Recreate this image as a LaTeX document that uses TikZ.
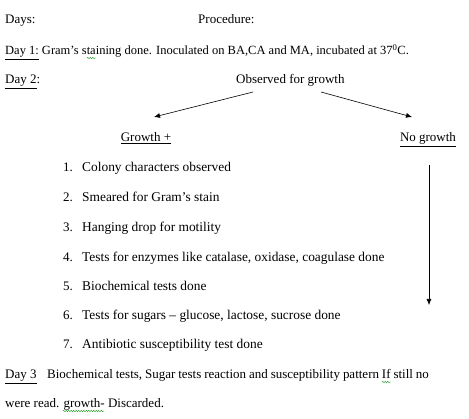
\documentclass[tikz,border=0pt]{standalone}
\usepackage{fontspec}
\setmainfont{Liberation Serif}
\usetikzlibrary{arrows.meta,decorations.pathmorphing}
\begin{document}
\begin{tikzpicture}[x=1pt,y=-1pt,
  txt/.style={anchor=base west,inner sep=0pt,font=\fontsize{13}{15}\selectfont},
  itxt/.style={txt,font=\fontsize{13.4}{15}\selectfont},
  ctxt/.style={anchor=base,inner sep=0pt,font=\fontsize{13}{15}\selectfont},
  arr/.style={draw=black,line width=0.6pt,-{Latex[length=6pt,width=5pt]}},
  spell/.style={draw=green!55!black,line width=0.4pt,decorate,decoration={snake,amplitude=0.6pt,segment length=2.5pt}}]
\useasboundingbox (0,0) rectangle (469,419);
\node[txt] (days) at (5,24) {Days:};
\node[txt] (proc) at (198,24) {Procedure:};
\node[txt,font=\fontsize{12.5}{15}\selectfont] (d1) at (5,55) {\underline{Day 1:} Gram’s staining done. Inoculated on BA,CA and MA, incubated at 37\textsuperscript{0}C.};
\node[txt] (d2) at (5,84) {\underline{Day 2}:};
\node[txt] (obs) at (236,84) {Observed for growth};
\node[ctxt] (gp) at (146,142) {\underline{Growth +}};
\node[ctxt] (ng) at (428,142) {\underline{No growth}};
\coordinate (o1) at (253,92);
\coordinate (o2) at (321,92);
\coordinate (g1) at (154,117);
\coordinate (n1) at (412,117);
\draw[arr] (o1) -- (g1);
\draw[arr] (o2) -- (n1);
\coordinate (v1) at (429,165);
\coordinate (v2) at (429,305);
\draw[arr] (v1) -- (v2);
\foreach \n/\t/\y in {1/{Colony characters observed}/172,
  2/{Smeared for Gram’s stain}/202,
  3/{Hanging drop for motility}/232,
  4/{Tests for enzymes like catalase, oxidase, coagulase done}/262,
  5/{Biochemical tests done}/291,
  6/{Tests for sugars – glucose, lactose, sucrose done}/320,
  7/{Antibiotic susceptibility test done}/349}{
  \node[txt] (num\n) at (63,\y) {\n.};
  \node[itxt] (it\n) at (82,\y) {\t};
}
\node[txt] (d3) at (5,379) {\underline{Day 3}};
\node[txt] (d3t) at (47,379) {\spaceskip=2.9pt Biochemical tests, Sugar tests reaction and susceptibility pattern If still no};
\node[txt] (d3b) at (5,408) {were read. growth- Discarded.};
\draw[spell] (87,58) -- (96,58);
\draw[spell] (382,382) -- (391,382);
\draw[spell] (63,411) -- (104,411);
\end{tikzpicture}
\end{document}
